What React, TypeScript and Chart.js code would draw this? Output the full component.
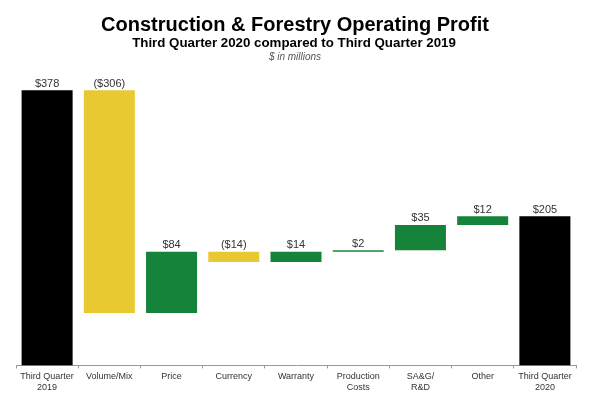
import React, { useEffect, useRef } from "react";
import { Chart, registerables } from "chart.js";

Chart.register(...registerables);

const categories: (string | string[])[] = [
  ["Third Quarter", "2019"],
  "Volume/Mix",
  "Price",
  "Currency",
  "Warranty",
  ["Production", "Costs"],
  ["SA&G/", "R&D"],
  "Other",
  ["Third Quarter", "2020"],
];
const changes: number[] = [378, -306, 84, -14, 14, 2, 35, 12, 205];
const isTotal: boolean[] = [true, false, false, false, false, false, false, false, true];
const valueLabels: string[] = ["$378", "($306)", "$84", "($14)", "$14", "$2", "$35", "$12", "$205"];

const BLACK = "#000000";
const YELLOW = "#E9C932";
const GREEN = "#15843A";

export default function App() {
  const ref = useRef<HTMLCanvasElement | null>(null);
  useEffect(() => {
    if (!ref.current) return;
    let run = 0;
    const ranges: [number, number][] = changes.map((v, i) => {
      if (isTotal[i]) {
        run = v;
        return [0, v];
      }
      const start = run;
      run = run + v;
      return [start, run];
    });
    const colors = changes.map((v, i) => (isTotal[i] ? BLACK : v < 0 ? YELLOW : GREEN));

    const headerPlugin = {
      id: "header",
      afterDraw(chart: any) {
        const ctx = chart.ctx;
        ctx.save();
        ctx.textAlign = "center";
        ctx.textBaseline = "alphabetic";
        ctx.fillStyle = "#000";
        ctx.font = "bold 20px 'Liberation Sans', Arial, sans-serif";
        ctx.fillText("Construction & Forestry Operating Profit", 295, 31);
        ctx.font = "bold 13.3px 'Liberation Sans', Arial, sans-serif";
        ctx.fillText("Third Quarter 2020 compared to Third Quarter 2019", 294, 47);
        ctx.fillStyle = "#555";
        ctx.font = "italic 10px 'Liberation Sans', Arial, sans-serif";
        ctx.fillText("$ in millions", 295, 60);
        ctx.restore();
      },
    };

    const valueLabelPlugin = {
      id: "valueLabels",
      afterDatasetsDraw(chart: any) {
        const ctx = chart.ctx;
        const meta = chart.getDatasetMeta(0);
        ctx.save();
        ctx.textAlign = "center";
        ctx.textBaseline = "bottom";
        ctx.fillStyle = "#333";
        ctx.font = "11px 'Liberation Sans', Arial, sans-serif";
        meta.data.forEach((el: any, i: number) => {
          const top = Math.min(el.y, el.base);
          ctx.fillText(valueLabels[i], el.x, top - 1);
        });
        ctx.restore();
      },
    };

    const chart = new Chart(ref.current, {
      type: "bar",
      data: {
        labels: categories,
        datasets: [
          {
            data: ranges as any,
            backgroundColor: colors,
            borderWidth: 0,
            barPercentage: 0.82,
            categoryPercentage: 1,
          },
        ],
      },
      options: {
        animation: false,
        responsive: false,
        maintainAspectRatio: false,
        layout: { padding: { top: 80, left: 16, right: 24, bottom: 1 } },
        plugins: {
          legend: { display: false },
          tooltip: { enabled: false },
          title: { display: false },
        },
        scales: {
          x: {
            grid: {
              display: true,
              drawOnChartArea: false,
              offset: true,
              tickLength: 3,
              color: "#999",
            },
            border: { display: true, color: "#999", width: 1 },
            ticks: {
              color: "#333",
              font: { size: 9, family: "'Liberation Sans', Arial, sans-serif" },
              padding: 3,
              maxRotation: 0,
              autoSkip: false,
            },
          },
          y: {
            display: false,
            min: 0,
            max: 392,
          },
        },
      },
      plugins: [headerPlugin, valueLabelPlugin],
    });
    return () => chart.destroy();
  }, []);
  return (
    <div style={{ position: "fixed", left: 0, top: 0, width: 600, height: 397, background: "#fff" }}>
      <canvas ref={ref} width={600} height={397} style={{ width: 600, height: 397 }} />
    </div>
  );
}
